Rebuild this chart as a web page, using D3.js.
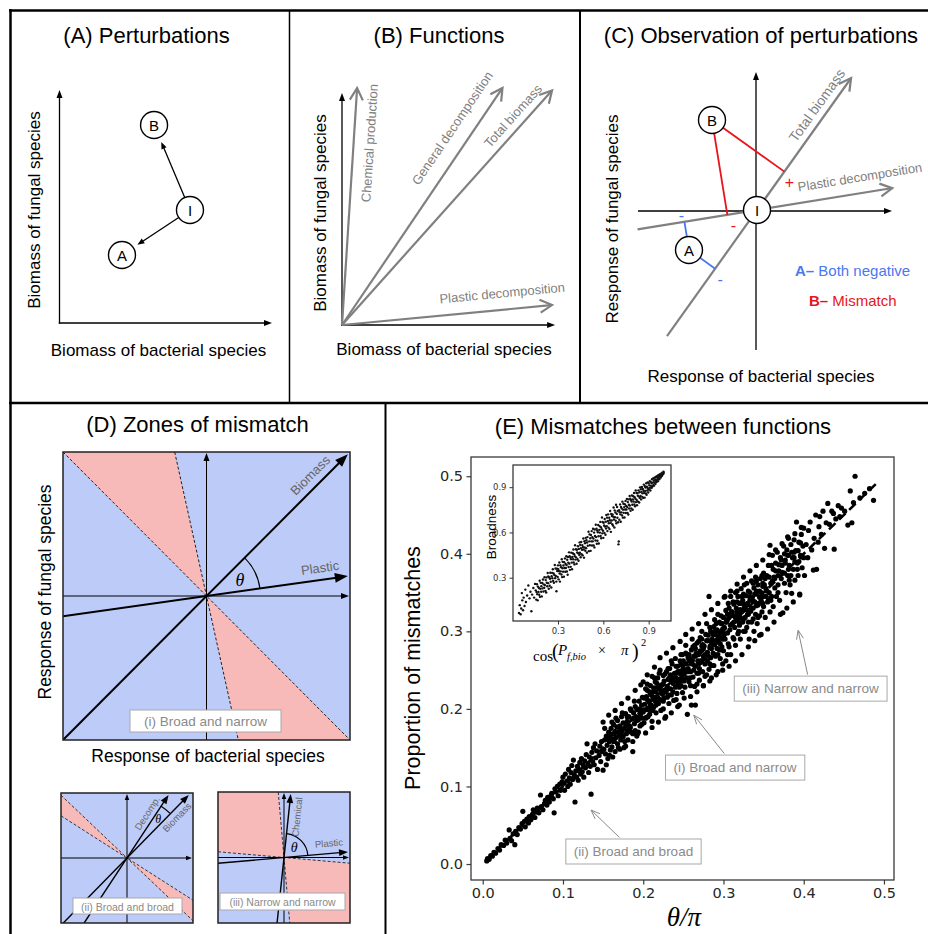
<!DOCTYPE html>
<html><head><meta charset="utf-8">
<script src="https://cdn.jsdelivr.net/npm/d3@7"></script>
<style>body{margin:0;background:#fff}svg{display:block}</style>
</head><body>
<svg id="fig" width="928" height="934"></svg>
<script>
// ================= DATA =================
const panelTitles = ["(A) Perturbations","(B) Functions","(C) Observation of perturbations","(D) Zones of mismatch","(E) Mismatches between functions"];
const axisLabelsBiomass = ["Biomass of bacterial species","Biomass of fungal species"];
const axisLabelsResponse = ["Response of bacterial species","Response of fungal species"];

// (A) community states in biomass space (relative units)
const statesA = [{id:"I",bac:0.614,fun:0.485},{id:"B",bac:0.445,fun:0.85},{id:"A",bac:0.294,fun:0.292}];
const perturbationsA = [["I","B"],["I","A"]];

// (B) function vectors (bacterial, fungal weight)
const functionsB = [
  {name:"Chemical production",bac:0.064,fun:1.0},
  {name:"General decomposition",bac:0.68,fun:1.0},
  {name:"Total biomass",bac:0.89,fun:0.99},
  {name:"Plastic decomposition",bac:0.89,fun:0.084}];

// (C) responses after perturbation (relative units) and function directions (deg)
const statesC = [{id:"B",bac:-45,fun:90},{id:"A",bac:-68,fun:-40}];
const functionsC = [{name:"Total biomass",angle:54.5,from:-155,to:162},{name:"Plastic decomposition",angle:9.2,from:-121,to:137}];
const legendC = [{id:"A",text:"Both negative",color:"#4a78f0"},{id:"B",text:"Mismatch",color:"#e8141a"}];

// (D) function directions (deg) for the three zone diagrams
const zoneFnsI = [{name:"Biomass",angle:45,normal:45},{name:"Plastic",angle:8,normal:12.5}];
const zoneFnsII = [{name:"Decomp.",angle:57,normal:57},{name:"Biomass",angle:46,normal:46}];
const zoneFnsIII = [{name:"Chemical",angle:84,normal:85},{name:"Plastic",angle:5,normal:5}];
const zoneLabels = ["(i) Broad and narrow","(ii) Broad and broad","(iii) Narrow and narrow"];

// (E) theta/pi vs proportion of mismatches (per-mille)
const mismatchPoints = [
[5,4],[6,7],[8,6],[10,11],[12,10],[14,15],[16,14],[19,20],[21,18],[23,25],[26,24],[28,31],[30,27],[33,44],[34,33],[36,30],[38,39],[40,25],[41,42],[43,38],[45,47],[47,45],[49,52],
[50,68],[52,55],[53,48],[55,58],[57,53],[58,61],[60,57],[62,64],[63,70],[65,60],[66,67],[68,72],[70,66],[72,89],[73,74],[75,70],[77,78],[78,82],[80,76],[81,86],[83,80],[85,88],[86,91],[88,84],[89,66],[90,97],[91,93],[93,100],[94,88],[96,103],[97,95],[99,106],
[100,112],[101,104],[102,95],[103,116],[105,107],[106,100],[107,122],[108,111],[109,103],[110,118],[111,127],[112,109],[113,134],[114,115],[115,80],[116,120],[117,112],[118,126],[119,108],[120,122],[121,131],[122,116],[123,136],[124,119],[125,128],[126,112],[127,133],[128,124],[129,141],[130,155],[131,129],[132,118],[133,138],[134,126],[135,90],[136,144],[137,132],[138,150],[139,128],[140,155],[141,137],[142,146],[143,122],[145,140],[146,152],[147,132],[148,158],[149,145],
[150,121],[151,148],[152,160],[153,142],[154,165],[155,153],[156,136],[157,170],[158,158],[159,147],[160,175],[160,162],[161,151],[162,168],[163,180],[164,158],[165,171],[165,145],[166,163],[167,177],[168,185],[168,155],[169,170],[170,166],[171,178],[172,160],[173,190],[174,172],[175,164],[175,182],[176,150],[177,176],[178,194],[179,168],[180,184],[180,173],[181,160],[182,190],[183,178],[184,200],[185,170],[186,187],[187,145],[188,195],[189,181],[190,172],[190,203],[191,190],[192,165],[193,199],[194,186],[195,210],[196,178],[197,194],[198,205],[199,188],[199,215],
[152,175],[155,162],[158,140],[161,183],[163,158],[166,188],[169,150],[171,165],[174,195],[177,158],[179,180],[182,172],[185,198],[187,168],[189,210],[192,185],[194,170],[196,200],[198,180],
[200,196],[200,235],[201,182],[202,206],[203,199],[204,216],[204,189],[205,224],[206,201],[207,210],[208,193],[209,230],[210,205],[210,218],[211,184],[212,214],[213,227],[213,202],[214,240],[215,210],[216,222],[216,195],[217,233],[218,215],[219,207],[220,246],[220,226],[221,212],[222,198],[223,231],[224,219],[225,243],[225,210],[226,236],[227,222],[228,190],[229,248],[230,229],[230,215],[231,238],[232,207],[233,252],[234,226],[235,240],[235,218],[236,258],[237,233],[238,211],[239,246],[240,228],[240,265],[241,240],[242,220],[243,255],[244,236],[245,248],[245,205],[246,262],[247,230],[248,243],[249,221],[249,270],[250,252],[250,238],
[203,226],[208,222],[212,198],[218,240],[222,230],[226,214],[231,252],[238,240],[243,232],[247,258],[206,190],[215,235],[234,244],[241,255],[248,236],
[201,214],[203,188],[205,232],[207,199],[209,220],[211,242],[213,215],[216,205],[218,228],[220,212],[221,250],[223,222],[225,200],[227,245],[229,226],[231,218],[233,238],[235,262],[237,222],[239,236],[241,212],[243,248],[245,228],[247,270],[249,250],
[250,262],[251,245],[252,228],[253,258],[254,240],[255,193],[255,270],[256,252],[257,235],[258,265],[259,248],[260,205],[260,276],[261,258],[262,241],[263,268],[264,229],[264,282],[265,205],[265,255],[266,272],[267,246],[268,262],[269,287],[270,252],[270,237],[271,275],[272,260],[273,290],[274,248],[275,268],[275,230],[276,281],[277,258],[278,296],[279,244],[280,273],[280,262],[281,288],[282,345],[282,251],[283,279],[284,300],[284,266],[285,240],[286,290],[287,272],[288,306],[288,256],[289,283],[290,296],[290,268],[291,310],[292,278],[293,248],[294,298],[294,286],[295,312],[296,265],[297,292],[297,320],[298,280],[299,303],[299,258],[300,292],
[253,272],[258,240],[262,280],[267,232],[271,292],[276,265],[279,310],[283,258],[287,296],[292,302],[296,284],[256,266],[269,270],[274,283],[285,278],[289,315],[293,270],[298,310],[264,256],[273,262],
[251,236],[253,282],[255,248],[257,262],[259,230],[261,290],[263,250],[265,268],[267,285],[269,246],[271,262],[273,300],[275,278],[277,242],[279,288],[281,268],[283,305],[285,256],[287,284],[289,270],[291,288],[293,322],[295,276],[297,300],[299,290],
[300,318],[300,275],[301,305],[302,290],[303,327],[303,262],[304,312],[305,298],[306,336],[306,284],[307,318],[308,302],[309,345],[309,270],[310,325],[311,310],[312,292],[312,338],[313,320],[314,305],[315,350],[315,282],[316,330],[317,314],[318,297],[318,345],[319,322],[320,336],[320,308],[321,290],[322,355],[323,326],[324,312],[324,340],[325,300],[326,360],[326,330],[327,318],[328,346],[329,305],[330,336],[330,322],[331,352],[332,290],[333,340],[334,326],[335,365],[335,312],[336,344],[337,330],[338,300],[338,356],[339,338],[340,322],[340,370],[341,348],[342,310],[343,360],[344,336],[345,352],[345,295],[346,368],[347,340],[348,325],[349,358],[349,345],[350,375],
[302,345],[307,280],[313,335],[319,300],[325,348],[331,312],[337,362],[343,318],[348,372],[305,322],[317,352],[329,362],[341,333],
[301,296],[303,312],[305,270],[307,330],[309,308],[311,325],[313,290],[315,318],[317,338],[319,312],[321,328],[323,345],[325,316],[327,300],[329,334],[331,322],[333,350],[335,330],[337,316],[339,348],[341,365],[343,334],[345,320],[347,350],[349,336],
[350,332],[351,360],[352,318],[353,345],[354,372],[355,338],[356,385],[357,350],[358,411],[358,325],[359,362],[360,345],[361,398],[362,332],[363,370],[364,356],[365,388],[366,345],[367,402],[368,360],[369,378],[370,340],[371,395],[372,368],[373,385],[374,324],[375,410],[376,362],[377,392],[378,350],[379,405],[380,422],[380,372],[381,398],[382,385],[383,360],[384,412],[385,349],[386,395],[387,380],[388,418],[389,366],[390,404],[391,441],[392,388],[393,372],[394,415],[395,348],[396,398],[397,425],[398,382],[399,410],[400,433],[400,395],
[354,352],[362,380],[368,372],[376,400],[382,366],[388,395],[394,390],[359,340],[352,368],[356,342],[360,385],[364,368],[368,350],[372,392],[376,375],[380,398],[384,372],[388,402],[392,380],[396,414],
[150,183],[154,128],[157,192],[162,138],[165,198],[171,148],[173,207],[178,152],[181,214],[187,158],[190,224],[193,168],[197,231],[203,169],[205,244],[211,176],[214,254],[219,183],[221,266],[227,188],[229,272],[235,195],[237,279],[243,203],[246,287],[251,214],[253,296],[259,216],[261,303],[267,222],[269,310],[275,230],[277,322],[283,236],[285,328],[291,244],[293,336],[299,250],[301,344],[307,255],[309,352],[315,262],[317,361],[323,270],[325,370],[331,280],[333,378],[339,288],[341,385],[347,296],[349,392],[355,303],[357,399],[363,312],[365,405],[371,322],[373,413],[379,330],[381,420],[387,338],[389,426],[395,347],[397,434],
[205,212],[209,204],[213,222],[217,216],[221,226],[225,232],[229,224],[233,241],[237,235],[241,246],[245,238],[249,256],[253,250],[257,270],[261,262],[265,278],[269,258],[273,281],[277,270],[281,295],[285,287],[289,300],[293,291],[297,310],[301,304],[305,315],[309,320],[313,312],[317,325],[321,318],[325,335],[329,328],[333,344],[337,339],[341,352],[345,344],[349,362],[353,355],[357,370],[361,365],[365,378],[369,386],[373,376],[377,388],[381,380],[385,402],[389,390],[393,404],[397,396],[180,190],[184,176],[188,188],[192,200],[196,190],[170,176],[174,166],[164,168],[158,166],
[401,372],[403,412],[405,395],[406,430],[408,441],[410,405],[412,379],[413,420],[415,450],[416,380],[418,415],[419,435],[420,448],[422,425],[424,455],[426,407],[428,440],[430,465],[432,438],[435,455],[437,452],[438,406],[440,445],[443,462],[445,448],[447,459],
[451,455],[455,437],[458,481],[460,440],[462,466],[464,500],[470,472],[476,478],[482,484],[487,469]];
const fitLine = [[0.005,0.005],[0.49,0.49]];
const xTicksE = [0,0.1,0.2,0.3,0.4,0.5];
const yTicksE = [0,0.1,0.2,0.3,0.4,0.5];
const annotationsE = [
  {text:"(iii) Narrow and narrow",tip:[0.393,0.3015],box:[0.4085,0.2268]},
  {text:"(i) Broad and narrow",tip:[0.263,0.192],box:[0.3144,0.125]},
  {text:"(ii) Broad and broad",tip:[0.135,0.0696],box:[0.1879,0.0168]}];

// inset: cos(P*pi)^2 vs broadness (per-mille)
const broadnessPoints = [
[42,66],[47,118],[53,58],[57,96],[61,198],[64,150],[69,84],[73,168],[79,112],[84,221],[88,139],[96,182],[104,248],[112,163],[118,207],[124,78],[129,188],[137,232],[142,168],[148,259],
[153,216],[156,155],[158,205],[161,257],[163,191],[166,150],[167,241],[171,206],[174,232],[176,187],[179,280],[181,173],[183,226],[186,266],[189,207],[190,244],[193,176],[196,265],[197,229],[201,288],[204,209],[206,256],[209,233],[211,303],[214,251],[217,213],[219,284],[222,202],[224,302],[226,267],[229,243],[232,331],[235,264],[236,309],[239,227],[242,302],[245,247],[247,293],[249,333],[252,273],[256,235],[258,310],[261,332],[263,296],[266,356],[268,278],[271,328],[273,267],[276,318],[279,384],[281,297],[284,361],[286,312],[289,274],[290,210],[293,360],[295,344],[298,305],[300,382],
[302,357],[304,289],[306,344],[309,401],[311,328],[313,274],[316,383],[318,342],[320,370],[323,321],[325,422],[327,304],[330,363],[331,405],[334,340],[336,381],[339,306],[341,403],[343,364],[346,428],[348,339],[350,391],[352,364],[355,442],[357,384],[359,341],[361,419],[364,320],[366,438],[368,399],[370,371],[373,468],[375,393],[377,443],[379,352],[382,434],[384,372],[386,423],[388,466],[391,400],[393,356],[395,438],[398,462],[400,422],[402,487],[404,401],[407,456],[409,388],[411,443],[413,515],[416,420],[418,489],[420,435],[423,392],[425,485],[427,467],[429,423],[432,508],[434,462],[436,412],[438,491],[441,451],[443,534],[445,465],[447,517],[450,436],[452,496],[454,537],[456,456],[459,485],[461,516],[463,448],[465,503],[468,560],[470,487],[472,433],[475,542],[477,501],[479,529],[481,479],[484,564],[486,496],[488,548],[491,466],[493,533],[495,569],[497,512],
[502,605],[504,476],[507,541],[509,587],[511,515],[514,561],[516,478],[518,583],[521,541],[523,609],[525,513],[527,569],[530,541],[532,624],[534,560],[536,513],[539,599],[541,501],[543,619],[545,576],[548,547],[550,651],[552,569],[555,625],[557,525],[559,613],[561,545],[564,601],[566,649],[568,575],[570,527],[573,617],[575,642],[577,599],[580,670],[582,576],[584,634],[586,561],[589,621],[591,699],[593,594],[595,669],[598,611],[600,564],[602,664],[605,646],[607,597],[609,689],[611,639],[614,585],[616,671],[618,626],[620,716],[623,642],[625,698],[627,609],[630,676],[632,720],[634,632],[636,661],[639,697],[641,622],[643,681],[645,742],[648,664],[650,604],[652,723],[655,679],[657,709],[659,654],[661,719],[664,645],[666,704],[668,765],[670,686],[673,633],[675,746],[677,701],[680,732],[682,677],[684,784],[686,661],[689,723],[691,769],[693,697],[695,742],[698,668],[700,521],[702,540],
[704,747],[706,684],[708,734],[711,786],[713,720],[715,671],[717,769],[720,733],[722,758],[724,713],[726,804],[729,698],[731,751],[733,790],[735,730],[738,768],[740,699],[742,787],[744,752],[747,809],[749,729],[751,776],[753,752],[756,822],[758,769],[760,730],[762,801],[765,719],[767,819],[769,784],[771,759],[774,842],[776,778],[778,824],[780,743],[783,815],[785,759],[787,805],[789,845],[792,784],[794,750],[796,819],[798,840],[801,804],[803,861],[805,785],[807,834],[810,774],[812,823],[814,878],[816,801],[819,862],[821,815],[823,781],[825,860],[828,844],[830,804],[832,879],[834,839],[837,798],[839,866],[841,829],[843,899],[846,842],[848,886],[850,819],[852,869],[855,901],[857,836],[859,859],[861,888],[864,829],[866,876],[868,917],[870,861],[873,831],[875,906],[877,875],[879,898],[882,858],[884,926],[886,849],[888,903],[891,878],[893,932],[895,893],[897,865],
[900,925],[902,884],[904,912],[907,940],[909,896],[911,878],[913,935],[916,909],[918,928],[920,896],[922,953],[925,905],[927,930],[929,958],[931,915],[934,942],[936,910],[938,962],[940,930],[943,951],[945,922],[947,968],[949,941],[952,935],[954,972],[956,948],[958,961],[961,940],[963,979],[965,957],[967,970],[970,952],[972,984],[974,965],[976,977],[979,963],[981,990],[983,972],[985,985],[988,976],[990,996],[992,984],[994,992],[996,988],[998,1002],[999,995]];
const insetTicks = [0.3,0.6,0.9];

// ================= HELPERS =================
const svg = d3.select("#fig");
const SANS = "'Liberation Sans', Arial, sans-serif";
const MPL = "'DejaVu Sans', sans-serif";
const SERIF = "'Liberation Serif', 'DejaVu Serif', serif";
const GRAY = "#808080";
const rad = a => a*Math.PI/180;

function drawArrow(g, p1, p2, o){
  const dx=p2[0]-p1[0], dy=p2[1]-p1[1], d=Math.hypot(dx,dy), ux=dx/d, uy=dy/d;
  const L=o.len, Wd=o.wid;
  const ex = o.open ? p2[0]-ux*o.sw*0.5 : p2[0]-ux*L*0.6;
  const ey = o.open ? p2[1]-uy*o.sw*0.5 : p2[1]-uy*L*0.6;
  g.append("line").attr("x1",p1[0]).attr("y1",p1[1]).attr("x2",ex).attr("y2",ey)
    .attr("stroke",o.color).attr("stroke-width",o.sw);
  const bx=p2[0]-ux*L, by=p2[1]-uy*L, nx=-uy*Wd/2, ny=ux*Wd/2;
  if(o.open){
    g.append("path").attr("d",`M${bx+nx},${by+ny}L${p2[0]},${p2[1]}L${bx-nx},${by-ny}`)
      .attr("fill","none").attr("stroke",o.color).attr("stroke-width",o.sw).attr("stroke-linejoin","miter");
  } else {
    g.append("path").attr("d",`M${p2[0]},${p2[1]}L${bx+nx},${by+ny}L${bx-nx},${by-ny}Z`).attr("fill",o.color);
  }
}
function text(g, x, y, s, o={}){
  const t = g.append("text").attr("x",x).attr("y",y).text(s)
    .attr("font-family",o.family||SANS).attr("font-size",o.size||14)
    .attr("fill",o.color||"#000").attr("text-anchor",o.anchor||"middle");
  if(o.baseline) t.attr("dominant-baseline",o.baseline);
  if(o.rotate!==undefined) t.attr("transform",`rotate(${o.rotate},${x},${y})`);
  if(o.style) t.attr("font-style",o.style);
  if(o.weight) t.attr("font-weight",o.weight);
  return t;
}
function circleNode(g, x, y, label, r){
  g.append("circle").attr("cx",x).attr("cy",y).attr("r",r).attr("fill","#fff").attr("stroke","#000").attr("stroke-width",1.4);
  text(g, x, y+0.5, label, {size:15, baseline:"central"});
}
function alongLabel(g, p0, ang, along, perp, s, o){
  const ux=Math.cos(rad(ang)), uy=-Math.sin(rad(ang));
  const nx=uy, ny=-ux;
  const x=p0[0]+ux*along+nx*perp, y=p0[1]+uy*along+ny*perp;
  return text(g, x, y, s, Object.assign({baseline:"central", rotate:-ang}, o));
}

// ================= BORDERS =================
const bg = svg.append("g").attr("stroke","#000");
bg.append("line").attr("x1",9).attr("x2",928).attr("y1",10.5).attr("y2",10.5).attr("stroke-width",2.5);
bg.append("line").attr("x1",10.5).attr("x2",10.5).attr("y1",9).attr("y2",934).attr("stroke-width",2.5);
bg.append("line").attr("x1",9).attr("x2",928).attr("y1",403).attr("y2",403).attr("stroke-width",2.5);
bg.append("line").attr("x1",289.5).attr("x2",289.5).attr("y1",10).attr("y2",403).attr("stroke-width",1.5);
bg.append("line").attr("x1",580).attr("x2",580).attr("y1",10).attr("y2",403).attr("stroke-width",2);
bg.append("line").attr("x1",385.5).attr("x2",385.5).attr("y1",403).attr("y2",934).attr("stroke-width",2);

const titlePos = [[146.5,43],[439,43],[761,43],[197.5,432],[663,434]];
panelTitles.forEach((t,i)=>text(svg, titlePos[i][0], titlePos[i][1], t, {size:22}));

// ================= PANEL A =================
{
  const g = svg.append("g");
  const x = d3.scaleLinear().domain([0,1]).range([59.5,272]);
  const y = d3.scaleLinear().domain([0,1]).range([323,90]);
  drawArrow(g,[x(0),y(0)+0.7],[x(0),y(1)],{color:"#000",sw:1.3,len:8,wid:6});
  drawArrow(g,[x(0)-0.7,y(0)],[x(1),y(0)],{color:"#000",sw:1.3,len:8,wid:6});
  const byId = Object.fromEntries(statesA.map(d=>[d.id,d]));
  const r = 13.5;
  perturbationsA.forEach(([a,b])=>{
    const p=[x(byId[a].bac),y(byId[a].fun)], q=[x(byId[b].bac),y(byId[b].fun)];
    const d=Math.hypot(q[0]-p[0],q[1]-p[1]), ux=(q[0]-p[0])/d, uy=(q[1]-p[1])/d;
    drawArrow(g,[p[0]+ux*r,p[1]+uy*r],[q[0]-ux*(r+5),q[1]-uy*(r+5)],{color:"#000",sw:1.3,len:7,wid:5.5});
  });
  statesA.forEach(d=>circleNode(g,x(d.bac),y(d.fun),d.id,r));
  text(g,158.5,356,axisLabelsBiomass[0],{size:17});
  text(g,34,210,axisLabelsBiomass[1],{size:17,rotate:-90,baseline:"central"});
}

// ================= PANEL B =================
{
  const g = svg.append("g");
  const x = d3.scaleLinear().domain([0,1]).range([342,578]);
  const y = d3.scaleLinear().domain([0,1]).range([325,88]);
  drawArrow(g,[x(0),y(0)+0.7],[x(0),y(0.979)],{color:"#000",sw:1.3,len:8,wid:6});
  drawArrow(g,[x(0)-0.7,y(0)],[x(0.903),y(0)],{color:"#000",sw:1.3,len:8,wid:6});
  const lab = [{t:0.772,perp:-16},{t:0.786,perp:19},{t:0.857,perp:12},{t:0.77,perp:16.7}];
  functionsB.forEach((f,i)=>{
    const p0=[x(0),y(0)], p1=[x(f.bac),y(f.fun)];
    drawArrow(g,p0,p1,{color:GRAY,sw:2.2,len:12,wid:13,open:true});
    const L=Math.hypot(p1[0]-p0[0],p1[1]-p0[1]);
    const ang=Math.atan2(p0[1]-p1[1],p1[0]-p0[0])*180/Math.PI;
    alongLabel(g,p0,ang,lab[i].t*L,lab[i].perp,f.name,{size:13,color:GRAY});
  });
  text(g,444,355,axisLabelsBiomass[0],{size:17});
  text(g,320,213,axisLabelsBiomass[1],{size:17,rotate:-90,baseline:"central"});
}

// ================= PANEL C =================
{
  const g = svg.append("g");
  const x = d3.scaleLinear().domain([-120,135]).range([637,892]);
  const y = d3.scaleLinear().domain([-140,140]).range([350,70]);
  const O=[x(0),y(0)];
  drawArrow(g,[x(-1),y(-140)],[x(-1),y(138)],{color:"#000",sw:1.3,len:8,wid:6});
  drawArrow(g,[x(-119),y(-1)],[x(135),y(-1)],{color:"#000",sw:1.3,len:8,wid:6});
  functionsC.forEach(f=>{
    const c=Math.cos(rad(f.angle)), s=Math.sin(rad(f.angle));
    drawArrow(g,[x(f.from*c),y(f.from*s)],[x(f.to*c),y(f.to*s)],{color:GRAY,sw:2.2,len:12,wid:13,open:true});
  });
  alongLabel(g,O,functionsC[0].angle,120,12,functionsC[0].name,{size:14,color:GRAY});
  alongLabel(g,O,functionsC[1].angle,44,16,functionsC[1].name,{size:13,color:GRAY,anchor:"start"});
  const r=13.5;
  const signOff = {B:[[5,11],[6,11]], A:[[5,11],[-3,-6]]};
  const signTxt = {B:["+","-"], A:["-","-"]};
  statesC.forEach(st=>{
    const col = st.id==="B" ? legendC[1].color : legendC[0].color;
    functionsC.forEach((f,j)=>{
      const c=Math.cos(rad(f.angle)), s=Math.sin(rad(f.angle));
      const dot = st.bac*c+st.fun*s;
      const foot=[x(dot*c),y(dot*s)], P=[x(st.bac),y(st.fun)];
      const d=Math.hypot(foot[0]-P[0],foot[1]-P[1]);
      const ux=(foot[0]-P[0])/d, uy=(foot[1]-P[1])/d;
      g.append("line").attr("x1",P[0]+ux*r).attr("y1",P[1]+uy*r).attr("x2",foot[0]).attr("y2",foot[1])
        .attr("stroke",col).attr("stroke-width",1.8);
      const off = signOff[st.id][j];
      text(g,foot[0]+off[0],foot[1]+off[1],signTxt[st.id][j],{size:16,color:col,baseline:"central"});
    });
    circleNode(g,x(st.bac),y(st.fun),st.id,r);
  });
  circleNode(g,O[0],O[1],"I",r);
  legendC.forEach((l,i)=>{
    const t = text(g, i===0?795:809, 276+i*30, "", {size:15, anchor:"start", color:l.color});
    t.append("tspan").attr("font-weight","bold").text(l.id+"– ");
    t.append("tspan").text(l.text);
  });
  text(g,761,382,axisLabelsResponse[0],{size:17});
  text(g,612,219,axisLabelsResponse[1],{size:17,rotate:-90,baseline:"central"});
}

// ================= PANEL D (zones) =================
const BLUE="#bdcbf8", PINK="#f8b9b9";
let clipN=0;
function zonePanel(fns, label, L){
  const g = svg.append("g");
  const cx=(L.x0+L.x1)/2, cy=(L.y0+L.y1)/2;
  const sx = d3.scaleLinear().domain([-1,1]).range([L.x0,L.x1]);
  const sy = d3.scaleLinear().domain([-1,1]).range([L.y1,L.y0]);
  const edge = a => { const c=Math.cos(rad(a)), s=Math.sin(rad(a)); const t=Math.min(Math.abs(c)>1e-9?1/Math.abs(c):1e9, Math.abs(s)>1e-9?1/Math.abs(s):1e9); return [t*c,t*s]; };
  const P = (v)=>[sx(v[0]),sy(v[1])];
  const id="clip"+(clipN++);
  g.append("clipPath").attr("id",id).append("rect").attr("x",L.x0).attr("y",L.y0).attr("width",L.x1-L.x0).attr("height",L.y1-L.y0);
  const inner = g.append("g").attr("clip-path",`url(#${id})`);
  inner.append("rect").attr("x",L.x0).attr("y",L.y0).attr("width",L.x1-L.x0).attr("height",L.y1-L.y0).attr("fill",BLUE);
  const bounds = [];
  fns.forEach(f=>{bounds.push(((f.normal+90)%360+360)%360, ((f.normal-90)%360+360)%360);});
  bounds.sort((a,b)=>a-b);
  const arcGen = d3.arc().innerRadius(0).outerRadius(2000);
  for(let i=0;i<bounds.length;i++){
    const a1=bounds[i], a2=i<bounds.length-1?bounds[i+1]:bounds[0]+360;
    const mid=rad((a1+a2)/2);
    const sgn=fns.map(f=>Math.sign(Math.cos(mid-rad(f.normal))));
    if(sgn[0]!==sgn[1]){
      inner.append("path").attr("transform",`translate(${cx},${cy})`)
        .attr("d",arcGen({startAngle:rad(90-a2),endAngle:rad(90-a1)})).attr("fill",PINK);
    }
  }
  fns.forEach(f=>{
    const a=edge(f.normal+90), b=edge(f.normal-90);
    inner.append("line").attr("x1",sx(a[0])).attr("y1",sy(a[1])).attr("x2",sx(b[0])).attr("y2",sy(b[1]))
      .attr("stroke","#222").attr("stroke-width",L.bw).attr("stroke-dasharray","3,2");
  });
  drawArrow(inner,[sx(0),L.y1],[sx(0),L.y0+1],{color:"#000",sw:1,len:L.ah,wid:L.ah*0.75});
  drawArrow(inner,[L.x0,sy(0)],[L.x1-1,sy(0)],{color:"#000",sw:1,len:L.ah,wid:L.ah*0.75});
  fns.forEach((f,i)=>{
    const back=edge(f.angle+180), fw=edge(f.angle);
    drawArrow(inner,P(back),P([fw[0]*L.tip,fw[1]*L.tip]),{color:"#000",sw:L.sw,len:L.fh,wid:L.fh*0.75});
    alongLabel(g,[cx,cy],f.angle,L.lab[i][0],L.lab[i][1],f.name,{size:L.fs,color:"#666"});
  });
  const a1=Math.min(fns[0].angle,fns[1].angle), a2=Math.max(fns[0].angle,fns[1].angle);
  const pa=[cx+L.arcR*Math.cos(rad(a1)),cy-L.arcR*Math.sin(rad(a1))], pb=[cx+L.arcR*Math.cos(rad(a2)),cy-L.arcR*Math.sin(rad(a2))];
  inner.append("path").attr("d",`M${pa[0]},${pa[1]}A${L.arcR},${L.arcR} 0 0 0 ${pb[0]},${pb[1]}`).attr("fill","none").attr("stroke","#000").attr("stroke-width",1.2);
  const am=rad(L.thetaAng);
  text(g,cx+L.thetaR*Math.cos(am),cy-L.thetaR*Math.sin(am),"θ",{size:L.ts,family:SERIF,style:"italic",baseline:"central"});
  g.append("rect").attr("x",L.box[0]).attr("y",L.box[1]).attr("width",L.box[2]-L.box[0]).attr("height",L.box[3]-L.box[1])
    .attr("fill","#fff").attr("stroke","#a8a8a8").attr("stroke-width",1);
  text(g,(L.box[0]+L.box[2])/2,(L.box[1]+L.box[3])/2+0.5,label,{size:L.bs,color:"#8a8a8a",baseline:"central"});
  g.append("rect").attr("x",L.x0).attr("y",L.y0).attr("width",L.x1-L.x0).attr("height",L.y1-L.y0)
    .attr("fill","none").attr("stroke","#222").attr("stroke-width",1.5);
}
zonePanel(zoneFnsI, zoneLabels[0], {x0:63,y0:452,x1:350,y1:740,sw:2,fh:13,ah:8,tip:0.985,bw:1,
  lab:[[158.7,12],[116.3,12]],fs:13,arcR:54,thetaR:37,thetaAng:25.5,ts:18,box:[130,710,281,732],bs:13.5});
zonePanel(zoneFnsII, zoneLabels[1], {x0:61,y0:793,x1:193,y1:923,sw:1.4,fh:9,ah:6,tip:0.97,bw:0.9,
  lab:[[48.7,7.5],[64,-7.5]],fs:9.5,arcR:62,thetaR:50,thetaAng:51.5,ts:12,box:[73,898,182,914],bs:10.5});
zonePanel(zoneFnsIII, zoneLabels[2], {x0:218,y0:792,x1:350,y1:923,sw:1.4,fh:9,ah:6,tip:0.97,bw:0.9,
  lab:[[41.6,-8.7],[46,10.5]],fs:9.5,arcR:24,thetaR:14,thetaAng:43,ts:14,box:[220,893,345,910],bs:10.5});
text(svg,208,762,axisLabelsResponse[0],{size:17.5});
text(svg,45,592,axisLabelsResponse[1],{size:17.5,rotate:-90,baseline:"central"});

// ================= PANEL E =================
{
  const g = svg.append("g");
  const X0=471,X1=894,Y0=457,Y1=880;
  const x = d3.scaleLinear().domain([-0.0146,0.5125]).range([X0,X1]);
  const y = d3.scaleLinear().domain([-0.0206,0.5248]).range([Y1,Y0]);
  g.append("line").attr("x1",x(fitLine[0][0])).attr("y1",y(fitLine[0][1])).attr("x2",x(fitLine[1][0])).attr("y2",y(fitLine[1][1]))
    .attr("stroke","#000").attr("stroke-width",2.6).attr("stroke-dasharray","9,5");
  g.selectAll("circle.pt").data(mismatchPoints).join("circle").attr("class","pt")
    .attr("cx",d=>x(d[0]/1000)).attr("cy",d=>y(d[1]/1000)).attr("r",2.6).attr("fill","#000");
  g.append("rect").attr("x",X0).attr("y",Y0).attr("width",X1-X0).attr("height",Y1-Y0).attr("fill","none").attr("stroke","#3a3a3a").attr("stroke-width",1.3);
  const ax=g.append("g").attr("transform",`translate(0,${Y1})`)
    .call(d3.axisBottom(x).tickValues(xTicksE).tickFormat(d3.format(".1f")).tickSize(4.5).tickPadding(3));
  const ay=g.append("g").attr("transform",`translate(${X0},0)`)
    .call(d3.axisLeft(y).tickValues(yTicksE).tickFormat(d3.format(".1f")).tickSize(4.5).tickPadding(3.5));
  [ax,ay].forEach(a=>{a.select(".domain").remove(); a.attr("font-family",MPL).attr("font-size",14.5).attr("color","#262626");
    a.selectAll("line").attr("stroke","#3a3a3a").attr("stroke-width",1.2);});
  text(g,413,668,"Proportion of mismatches",{size:21.5,rotate:-90,baseline:"central"});
  text(g,684,926,"θ/π",{size:27,family:SERIF,style:"italic"});
  annotationsE.forEach(a=>{
    const bx=x(a.box[0]), by=y(a.box[1]);
    const t=text(g,bx,by+0.5,a.text,{size:13.5,color:"#8a8a8a",baseline:"central"});
    const bb=t.node().getBBox();
    const tip=[x(a.tip[0]),y(a.tip[1])];
    const dx=tip[0]-bx, dy=tip[1]-by;
    const k=(bb.height/2+6)/Math.abs(dy);
    drawArrow(g,[bx+dx*k,by+dy*k],tip,{color:"#8a8a8a",sw:1,len:9,wid:7,open:true});
    g.append("rect").attr("x",bb.x-8).attr("y",bb.y-5).attr("width",bb.width+16).attr("height",bb.height+10)
      .attr("fill","#fff").attr("stroke","#a8a8a8").attr("stroke-width",1);
    t.raise();
  });
  // inset
  const IX0=513,IX1=671,IY0=465,IY1=621;
  const xi=d3.scaleLinear().domain([0.0025,1.0475]).range([IX0,IX1]);
  const yi=d3.scaleLinear().domain([0.013,1.047]).range([IY1,IY0]);
  g.append("rect").attr("x",IX0).attr("y",IY0).attr("width",IX1-IX0).attr("height",IY1-IY0).attr("fill","#fff");
  g.append("g").selectAll("circle").data(broadnessPoints).join("circle")
    .attr("cx",d=>xi(d[0]/1000)).attr("cy",d=>yi(d[1]/1000)).attr("r",1.2).attr("fill","#111");
  g.append("rect").attr("x",IX0).attr("y",IY0).attr("width",IX1-IX0).attr("height",IY1-IY0).attr("fill","none").attr("stroke","#3a3a3a").attr("stroke-width",1.3);
  const ix=g.append("g").attr("transform",`translate(0,${IY1})`).call(d3.axisBottom(xi).tickValues(insetTicks).tickFormat(d3.format(".1f")).tickSize(3.5).tickPadding(3));
  const iy=g.append("g").attr("transform",`translate(${IX0},0)`).call(d3.axisLeft(yi).tickValues(insetTicks).tickFormat(d3.format(".1f")).tickSize(3.5).tickPadding(3));
  [ix,iy].forEach(a=>{a.select(".domain").remove(); a.attr("font-family",MPL).attr("font-size",8.5).attr("color","#333");});
  text(g,491,527,"Broadness",{size:13.5,rotate:-90,baseline:"central"});
  const m=g.append("g").attr("font-family",SERIF).attr("fill","#000");
  m.append("text").attr("x",533).attr("y",661).attr("font-size",15).text("cos");
  m.append("text").attr("x",552).attr("y",658).attr("font-size",20).text("(");
  m.append("text").attr("x",558).attr("y",655).attr("font-size",15).attr("font-style","italic").text("P");
  m.append("text").attr("x",567).attr("y",660).attr("font-size",10.5).attr("font-style","italic").text("f,bio");
  m.append("text").attr("x",598).attr("y",655).attr("font-size",14).text("×");
  m.append("text").attr("x",621).attr("y",655).attr("font-size",15).attr("font-style","italic").text("π");
  m.append("text").attr("x",632).attr("y",658).attr("font-size",20).text(")");
  m.append("text").attr("x",641).attr("y",646).attr("font-size",10.5).text("2");
}
</script>
</body></html>
